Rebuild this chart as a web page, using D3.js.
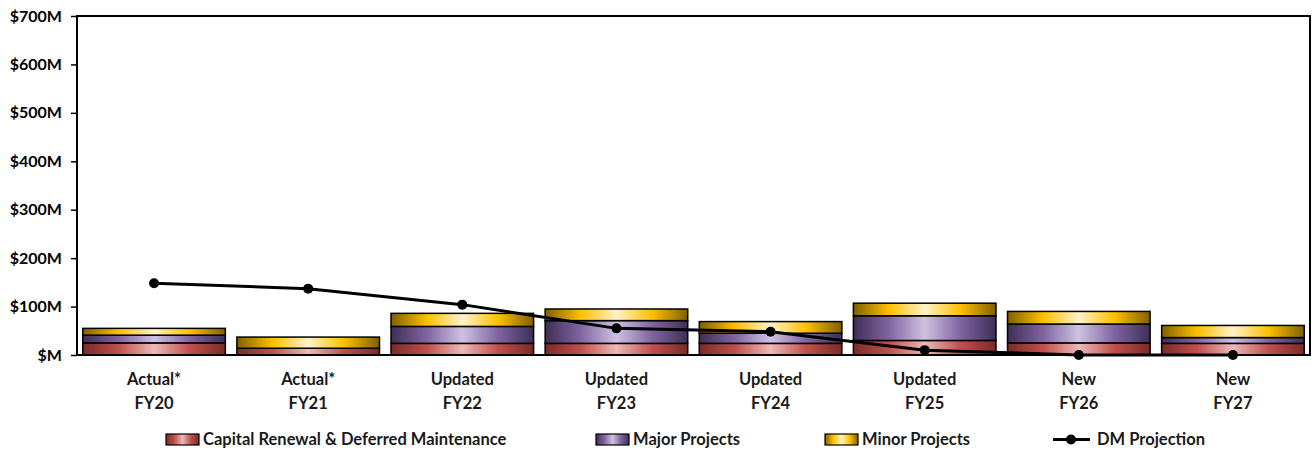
<!DOCTYPE html>
<html>
<head>
<meta charset="utf-8">
<script src="https://cdn.jsdelivr.net/npm/d3@7"></script>
<style>
  body { margin: 0; background: #fff; }
  svg { font-family: Lato, "Open Sans", sans-serif; font-weight: bold; }
</style>
</head>
<body>
<svg id="chart"></svg>
<script>
var width = 1314,
  height = 451;

var categories = ["FY20", "FY21", "FY22", "FY23", "FY24", "FY25", "FY26", "FY27"];
var catLabels = ["Actual*", "Actual*", "Updated", "Updated", "Updated", "Updated", "New", "New"];
var capitalRenewal = [25, 14, 24, 24, 24, 30, 25, 24];
var majorProjects = [16, 0, 35, 47, 21, 51, 39, 12];
var minorProjects = [14, 23, 27, 24, 24, 26, 26, 25];
var dmProjection = [148, 137, 104, 55, 48, 10, 0, 0];
var yTicks = [0, 100, 200, 300, 400, 500, 600, 700];

var seriesNames = ["Capital Renewal & Deferred Maintenance", "Major Projects", "Minor Projects"];
var seriesColors = [
  ["#7a2b2a", "#c0504d", "#ebb9b8"],
  ["#3e2f55", "#8064a2", "#cfc2e0"],
  ["#7f6000", "#ffc000", "#fff2c8"]
];

var plotLeft = 77, plotRight = 1310, plotTop = 16, plotBottom = 355;

var svg = d3.select("#chart").attr("width", width).attr("height", height);

// gradients, dark at the edges and light in the middle
var defs = svg.append("defs");
seriesColors.forEach(function (c, i) {
  var grad = defs.append("linearGradient")
    .attr("id", "grad" + i)
    .attr("x1", "0%").attr("x2", "100%")
    .attr("y1", "0%").attr("y2", "0%");
  grad.append("stop").attr("offset", "0%").attr("stop-color", c[0]);
  grad.append("stop").attr("offset", "25%").attr("stop-color", c[1]);
  grad.append("stop").attr("offset", "50%").attr("stop-color", c[2]);
  grad.append("stop").attr("offset", "75%").attr("stop-color", c[1]);
  grad.append("stop").attr("offset", "100%").attr("stop-color", c[0]);
});

var xScale = d3.scaleBand()
  .domain(categories)
  .range([plotLeft, plotRight])
  .paddingInner(0.075)
  .paddingOuter(0.0375);

var yScale = d3.scaleLinear().domain([0, 700]).range([plotBottom, plotTop]);

// stacked data
var rows = categories.map(function (c, i) {
  return { cat: c, s0: capitalRenewal[i], s1: majorProjects[i], s2: minorProjects[i] };
});
var stack = d3.stack().keys(["s0", "s1", "s2"])(rows);

stack.forEach(function (layer, i) {
  svg.append("g")
    .selectAll("rect")
    .data(layer.filter(function (d) { return d[1] - d[0] > 0; }))
    .enter()
    .append("rect")
    .attr("x", function (d) { return xScale(d.data.cat); })
    .attr("y", function (d) { return yScale(d[1]); })
    .attr("width", xScale.bandwidth())
    .attr("height", function (d) { return yScale(d[0]) - yScale(d[1]); })
    .attr("fill", "url(#grad" + i + ")")
    .attr("stroke", "#000")
    .attr("stroke-width", 1.5);
});

// frame
svg.append("rect")
  .attr("x", plotLeft).attr("y", plotTop)
  .attr("width", plotRight - plotLeft).attr("height", plotBottom - plotTop)
  .attr("fill", "none")
  .attr("stroke", "#000")
  .attr("stroke-width", 2);

// y axis
var yAxis = svg.append("g")
  .attr("transform", "translate(" + plotLeft + ",0)")
  .call(d3.axisLeft(yScale).tickValues(yTicks).tickSize(6).tickPadding(9)
    .tickFormat(function (d) { return d === 0 ? "$M" : "$" + d + "M"; }));
yAxis.select(".domain").remove();
yAxis.selectAll(".tick line").attr("stroke", "#000").attr("stroke-width", 1.5);
yAxis.selectAll(".tick text")
  .style("font-size", "16px")
  .style("font-family", "Lato, sans-serif")
  .style("font-weight", "bold")
  .attr("fill", "#000");

// x labels
var xl = svg.append("g");
categories.forEach(function (c, i) {
  var cx = xScale(c) + xScale.bandwidth() / 2;
  var t = xl.append("text")
    .attr("text-anchor", "middle")
    .attr("font-size", "16.5px")
    .attr("fill", "#1a1a1a");
  t.append("tspan").attr("x", cx).attr("y", 385).text(catLabels[i]);
  t.append("tspan").attr("x", cx).attr("y", 409).text(c);
});

// DM projection line
var line = d3.line()
  .x(function (d, i) { return xScale(categories[i]) + xScale.bandwidth() / 2; })
  .y(function (d) { return yScale(d); });

svg.append("path")
  .datum(dmProjection)
  .attr("d", line)
  .attr("fill", "none")
  .attr("stroke", "#000")
  .attr("stroke-width", 3);

svg.append("g")
  .selectAll("circle")
  .data(dmProjection)
  .enter()
  .append("circle")
  .attr("cx", function (d, i) { return xScale(categories[i]) + xScale.bandwidth() / 2; })
  .attr("cy", function (d) { return yScale(d); })
  .attr("r", 5)
  .attr("fill", "#000");

// legend
var legX = [166, 596, 825];
var lg = svg.append("g");
seriesNames.forEach(function (n, i) {
  lg.append("rect")
    .attr("x", legX[i]).attr("y", 434)
    .attr("width", 33).attr("height", 11)
    .attr("fill", "url(#grad" + i + ")")
    .attr("stroke", "#000")
    .attr("stroke-width", 1.2);
  lg.append("text")
    .attr("x", legX[i] + 37).attr("y", 445)
    .attr("font-size", "16.5px")
    .attr("fill", "#1a1a1a")
    .text(n);
});
lg.append("line")
  .attr("x1", 1053).attr("x2", 1090)
  .attr("y1", 439.5).attr("y2", 439.5)
  .attr("stroke", "#000").attr("stroke-width", 3);
lg.append("circle").attr("cx", 1071).attr("cy", 439.5).attr("r", 5).attr("fill", "#000");
lg.append("text")
  .attr("x", 1097).attr("y", 445)
  .attr("font-size", "16.5px")
  .attr("fill", "#1a1a1a")
  .text("DM Projection");
</script>
</body>
</html>
